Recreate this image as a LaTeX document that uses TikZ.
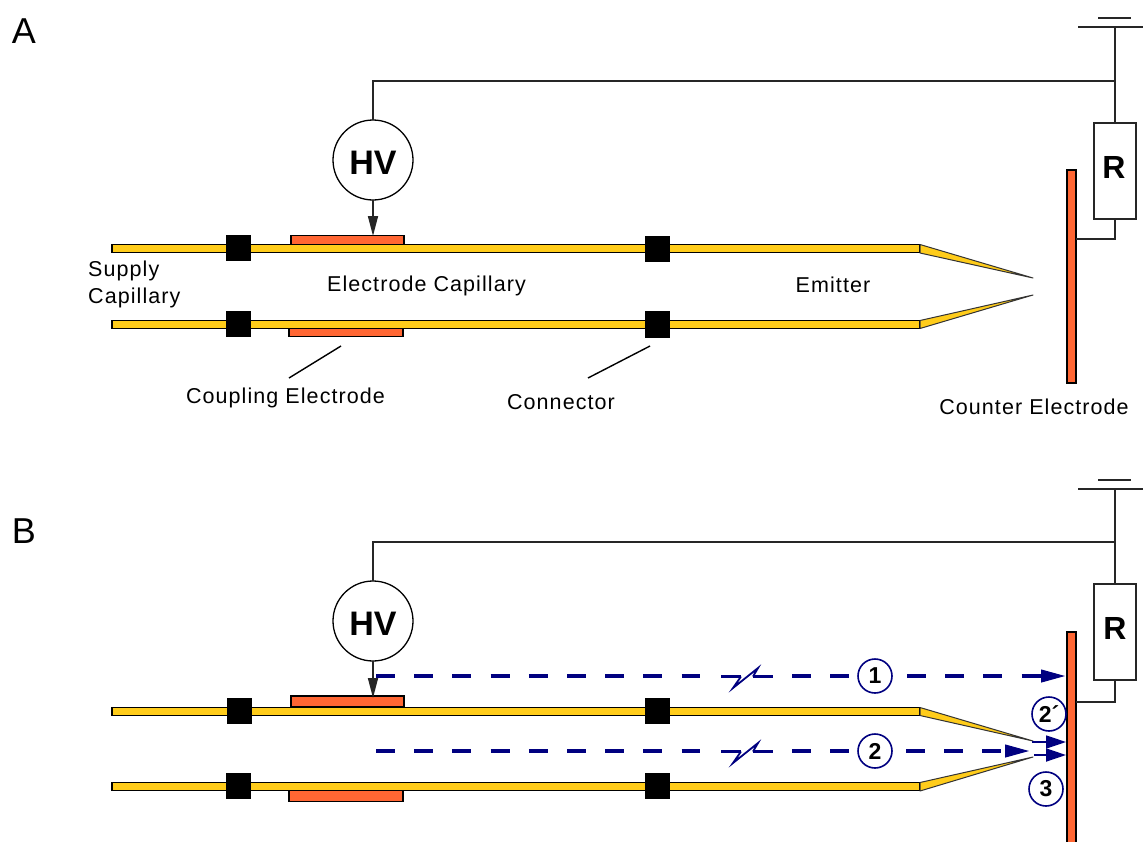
\documentclass[tikz,border=0pt]{standalone}
\usepackage{fontspec}
\setmainfont{Liberation Sans}
\usetikzlibrary{arrows.meta}
\definecolor{capy}{HTML}{FFCC1A}
\definecolor{elec}{HTML}{FF6633}
\definecolor{navyb}{HTML}{000080}
\newcommand{\lbl}{\fontsize{21.5}{26}\selectfont\addfontfeature{LetterSpace=5}}
\tikzset{
  wire/.style={draw=black!85,line width=1.6pt},
  box/.style={draw=black,inner sep=0pt,outer sep=0pt,line width=1.4pt},
  capil/.style={box,fill=capy,minimum height=8.5pt},
  electrode/.style={box,fill=elec},
  clamp/.style={fill=black,inner sep=0pt,outer sep=0pt,minimum width=25pt,minimum height=26pt},
  needle/.style={fill=capy,draw=black!80,line width=1pt,line join=round},
  hv/.style={circle,draw=black,fill=white,line width=1.3pt,minimum size=80pt,inner sep=0pt,outer sep=0pt,font=\fontsize{34}{34}\selectfont\bfseries},
  rbox/.style={draw=black!85,fill=white,line width=1.8pt,minimum width=42pt,minimum height=96pt,inner sep=0pt,outer sep=0pt,text depth=0pt},
  rtext/.style={font=\fontsize{32}{32}\selectfont\bfseries},
  txt/.style={inner sep=0pt,font=\lbl},
  letter/.style={inner sep=0pt,font=\fontsize{36}{36}\selectfont},
  num/.style={circle,draw=navyb,fill=white,line width=1.6pt,minimum size=34pt,inner sep=0pt,font=\fontsize{23}{23}\selectfont\bfseries},
  beam/.style={draw=navyb,line width=3.2pt},
  dashb/.style={beam,dash pattern=on 19pt off 19.2pt},
  thinb/.style={draw=navyb,line width=1.8pt,line join=miter},
  headb/.style={-{Triangle[length=24pt,width=13pt]}},
  headc/.style={-{Triangle[length=20pt,width=13pt]}},
  hvarrow/.style={wire,-{Triangle[length=20pt,width=10pt]}},
  lead/.style={draw=black,line width=1.4pt}
}
\begin{document}
\begin{tikzpicture}[x=1pt,y=-1pt]
\useasboundingbox (0,0) rectangle (1143,841);
\fill[white] (0,0) rectangle (1143,841);
% ---------- A ----------
\node[letter] (la) at (24,31) {A};
\node[box,electrode,minimum width=113pt,minimum height=9pt] (ea1) at (347.5,240) {};
\node[box,electrode,minimum width=114pt,minimum height=9pt] (ea2) at (346,332) {};
\node[capil,minimum width=808pt] (ca1) at (516,248.5) {};
\node[capil,minimum width=808pt] (ca2) at (516,324.5) {};
\filldraw[needle] (920,244.5) -- (1033,278) -- (920,253) -- cycle;
\filldraw[needle] (920,328.5) -- (1033,295) -- (920,320.5) -- cycle;
\node[clamp] (ka1) at (238.5,248) {};
\node[clamp] (ka2) at (657.5,248.5) {};
\node[clamp] (ka3) at (238.5,323.5) {};
\node[clamp,minimum height=27pt] (ka4) at (657.5,324.5) {};
\node[box,electrode,minimum width=9pt,minimum height=213pt] (cea) at (1071.5,276.5) {};
\node[rbox] (ra) at (1115,171) {};
\node[rtext] (rat) at (1114,167) {R};
\node[hv] (hva) at (373,160) {\raisebox{-14pt}[0pt][0pt]{HV}};
\coordinate (ga) at (1115,27);
\coordinate (ga1) at (1078,27);
\coordinate (ga2) at (1143,27);
\coordinate (gs1) at (1098,18);
\coordinate (gs2) at (1131,18);
\coordinate (ja) at (1115,81);
\coordinate (ra2) at (1115,239);
\draw[wire] (ga1) -- (ga2);
\draw[wire] (gs1) -- (gs2);
\draw[wire] (ga) -- (ra.north);
\draw[wire] (hva.north) -- (373,81) -- (ja);
\draw[wire] (ra.south) -- (ra2) -- (ra2 -| cea.east);
\coordinate (ha) at (373,236);
\draw[hvarrow] (hva.south) -- (ha);
\node[txt,align=left,anchor=west] (s1) at (88,271) {Supply};
\node[txt,align=left,anchor=west] (s2) at (88,298) {Capillary};
\node[txt] (t1) at (426.5,286) {Electrode Capillary};
\node[txt] (t2) at (833,285) {Emitter};
\node[txt] (t3) at (285.5,398) {Coupling Electrode};
\node[txt] (t4) at (561,402) {Connector};
\node[txt] (t5) at (1034,407) {Counter Electrode};
\coordinate (p1) at (341,346); \coordinate (p2) at (289,378);
\coordinate (p3) at (650,346); \coordinate (p4) at (588,378);
\draw[lead] (p1) -- (p2);
\draw[lead] (p3) -- (p4);
% ---------- B ----------
\node[letter] (lb) at (24,531) {B};
\node[box,electrode,minimum width=113pt,minimum height=11pt] (eb1) at (347.5,701.5) {};
\node[box,electrode,minimum width=114pt,minimum height=11pt] (eb2) at (346,796) {};
\node[capil,minimum width=808pt] (cb1) at (516,711.5) {};
\node[capil,minimum width=808pt] (cb2) at (516,786.5) {};
\filldraw[needle] (920,707.5) -- (1033,741) -- (920,715.5) -- cycle;
\filldraw[needle] (920,791) -- (1033,757) -- (920,782.5) -- cycle;
\node[clamp] (kb1) at (239.5,711) {};
\node[clamp] (kb2) at (657.5,711) {};
\node[clamp] (kb3) at (238,785.5) {};
\node[clamp] (kb4) at (657.5,786) {};
\node[box,electrode,minimum width=9pt,minimum height=220pt] (ceb) at (1071.5,742) {};
\node[rbox] (rb) at (1115,632) {};
\node[rtext] (rbt) at (1115,628) {R};
\node[hv] (hvb) at (373,621) {\raisebox{-14pt}[0pt][0pt]{HV}};
\coordinate (gb) at (1115,489);
\coordinate (gb1) at (1078,489);
\coordinate (gb2) at (1143,489);
\coordinate (gt1) at (1098,480);
\coordinate (gt2) at (1131,480);
\coordinate (jb) at (1115,542);
\coordinate (rb2) at (1115,702);
\draw[wire] (gb1) -- (gb2);
\draw[wire] (gt1) -- (gt2);
\draw[wire] (gb) -- (rb.north);
\draw[wire] (hvb.north) -- (373,542) -- (jb);
\draw[wire] (rb.south) -- (rb2) -- (rb2 -| ceb.east);
\coordinate (hb) at (373,698);
\draw[hvarrow] (hvb.south) -- (hb);
% beams
\coordinate (b1a) at (376,676); \coordinate (b1b) at (700,676);
\coordinate (b1c) at (792,676); \coordinate (b1d) at (850,676);
\coordinate (b1e) at (907,676); \coordinate (b1f) at (1041,676); \coordinate (b1g) at (1065,676);
\draw[dashb] (b1a) -- (b1b);
\draw[dashb] (b1c) -- (b1d);
\draw[dashb] (b1e) -- (b1f);
\draw[draw=navyb,fill=navyb,headb,line width=1pt] (b1f) -- (b1g);
\draw[thinb,line width=2.8pt] (721,676.5) -- (741,676.5);
\draw[thinb,line width=2.8pt] (753,676.5) -- (773,676.5);
\draw[thinb] (741,676.5) -- (733,688) -- (758,668) -- (753,676.5);
\coordinate (b2a) at (376,751); \coordinate (b2b) at (700,751);
\coordinate (b2c) at (792,751); \coordinate (b2d) at (850,751);
\coordinate (b2e) at (906,751); \coordinate (b2f) at (1005,751); \coordinate (b2g) at (1029,751);
\draw[dashb] (b2a) -- (b2b);
\draw[dashb] (b2c) -- (b2d);
\draw[dashb] (b2e) -- (b2f);
\draw[draw=navyb,fill=navyb,headb,line width=1pt] (b2f) -- (b2g);
\draw[thinb,line width=2.8pt] (721,751.5) -- (741,751.5);
\draw[thinb,line width=2.8pt] (753,751.5) -- (773,751.5);
\draw[thinb] (741,751.5) -- (733,763) -- (758,743) -- (753,751.5);
\coordinate (c1) at (1032,742); \coordinate (c2) at (1066,742);
\coordinate (c3) at (1034,755); \coordinate (c4) at (1066,755);
\draw[thinb,headc] (c1) -- (c2);
\draw[thinb,headc] (c3) -- (c4);
\node[num] (n1) at (875,676) {1};
\node[num] (n2) at (875,751) {2};
\node[num] (n2p) at (1049,714) {2´};
\node[num] (n3) at (1046,789) {3};
\end{tikzpicture}
\end{document}
